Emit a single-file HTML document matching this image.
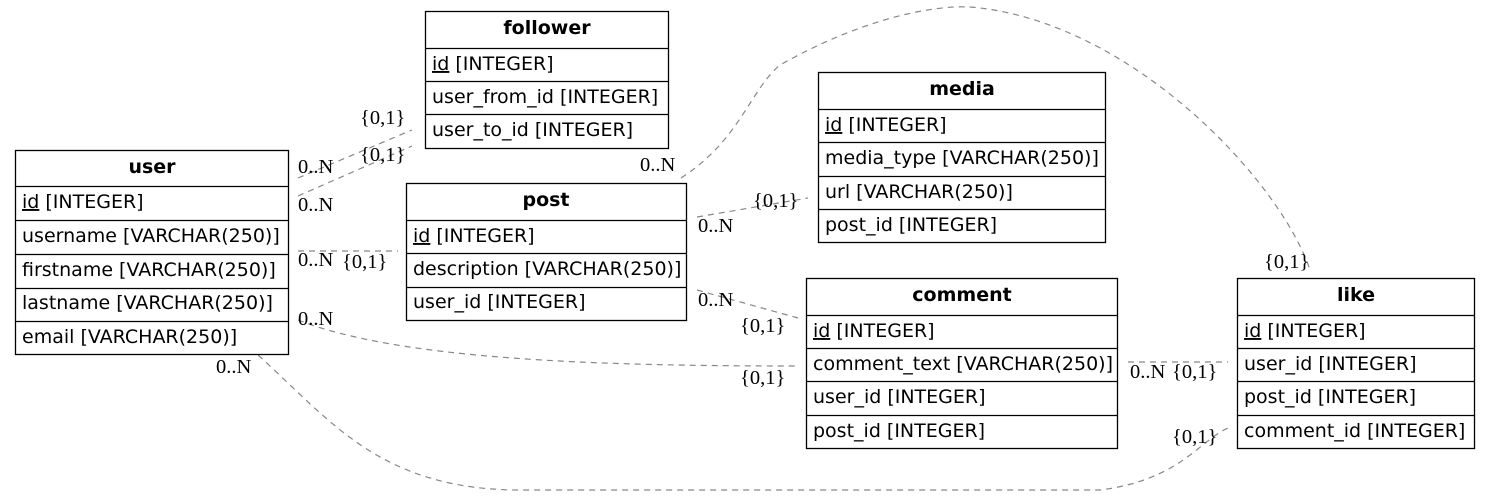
<!DOCTYPE html>
<html><head><meta charset="utf-8"><style>
html,body{margin:0;padding:0;background:#fff;}
svg{display:block}
.t{font-family:"DejaVu Sans","Liberation Sans",sans-serif;font-size:19px;fill:#000}
.h{font-family:"DejaVu Sans","Liberation Sans",sans-serif;font-size:19px;font-weight:bold;fill:#000}
.l{font-family:"Liberation Serif","DejaVu Serif",serif;font-size:20.5px;fill:#000}
.e{fill:none;stroke:#888;stroke-width:1.2;stroke-dasharray:6,5}
.b{fill:#fff;stroke:#000;stroke-width:1.3}
</style></head><body>
<svg width="1491" height="497" viewBox="0 0 1491 497" xmlns="http://www.w3.org/2000/svg">
<path class="e" d="M298,178 L412,130"/>
<path class="e" d="M298,196 L412,146"/>
<path class="e" d="M298,251 L398,251"/>
<path class="e" d="M298,320 C400,360 600,366 798,366"/>
<path class="e" d="M258,355 C330,420 380,490 520,490 L1100,490 C1180,480 1200,440 1228,428"/>
<path class="e" d="M681,178 C740,140 750,90 780,65 C860,20 930,5 970,7 C1130,20 1280,180 1310,270"/>
<path class="e" d="M697,217 L808,198"/>
<path class="e" d="M697,290 L798,318"/>
<path class="e" d="M1128,362 L1228,362"/>
<text class="l" x="298" y="173">0..N</text>
<text class="l" x="298" y="211">0..N</text>
<text class="l" x="360" y="124">{0,1}</text>
<text class="l" x="360" y="161">{0,1}</text>
<text class="l" x="298" y="266">0..N</text>
<text class="l" x="342" y="268">{0,1}</text>
<text class="l" x="298" y="325">0..N</text>
<text class="l" x="740" y="384">{0,1}</text>
<text class="l" x="216" y="373">0..N</text>
<text class="l" x="1172" y="443">{0,1}</text>
<text class="l" x="640" y="171">0..N</text>
<text class="l" x="1264" y="268">{0,1}</text>
<text class="l" x="698" y="232">0..N</text>
<text class="l" x="753" y="207">{0,1}</text>
<text class="l" x="698" y="306">0..N</text>
<text class="l" x="740" y="332">{0,1}</text>
<text class="l" x="1130" y="378">0..N</text>
<text class="l" x="1172" y="378">{0,1}</text>
<rect class="b" x="425.5" y="11.5" width="243" height="137"/>
<line class="b" x1="425" y1="48.5" x2="669" y2="48.5"/>
<line class="b" x1="425" y1="81.5" x2="669" y2="81.5"/>
<line class="b" x1="425" y1="114.5" x2="669" y2="114.5"/>
<text class="h" x="547" y="34" text-anchor="middle">follower</text>
<text class="t" x="432" y="70"><tspan text-decoration="underline">id</tspan> [INTEGER]</text>
<text class="t" x="432" y="103">user_from_id [INTEGER]</text>
<text class="t" x="432" y="136">user_to_id [INTEGER]</text>
<rect class="b" x="15.5" y="150.5" width="273" height="204"/>
<line class="b" x1="15" y1="186.5" x2="288" y2="186.5"/>
<line class="b" x1="15" y1="220.5" x2="288" y2="220.5"/>
<line class="b" x1="15" y1="254.5" x2="288" y2="254.5"/>
<line class="b" x1="15" y1="288.5" x2="288" y2="288.5"/>
<line class="b" x1="15" y1="321.5" x2="288" y2="321.5"/>
<text class="h" x="152" y="173" text-anchor="middle">user</text>
<text class="t" x="22" y="208"><tspan text-decoration="underline">id</tspan> [INTEGER]</text>
<text class="t" x="22" y="242">username [VARCHAR(250)]</text>
<text class="t" x="22" y="276">firstname [VARCHAR(250)]</text>
<text class="t" x="22" y="309">lastname [VARCHAR(250)]</text>
<text class="t" x="22" y="343">email [VARCHAR(250)]</text>
<rect class="b" x="406.5" y="183.5" width="280" height="137"/>
<line class="b" x1="406" y1="220.5" x2="687" y2="220.5"/>
<line class="b" x1="406" y1="253.5" x2="687" y2="253.5"/>
<line class="b" x1="406" y1="287.5" x2="687" y2="287.5"/>
<text class="h" x="546" y="206" text-anchor="middle">post</text>
<text class="t" x="413" y="242"><tspan text-decoration="underline">id</tspan> [INTEGER]</text>
<text class="t" x="413" y="275">description [VARCHAR(250)]</text>
<text class="t" x="413" y="308">user_id [INTEGER]</text>
<rect class="b" x="818.5" y="72.5" width="287" height="170"/>
<line class="b" x1="818" y1="109.5" x2="1106" y2="109.5"/>
<line class="b" x1="818" y1="142.5" x2="1106" y2="142.5"/>
<line class="b" x1="818" y1="176.5" x2="1106" y2="176.5"/>
<line class="b" x1="818" y1="209.5" x2="1106" y2="209.5"/>
<text class="h" x="962" y="95" text-anchor="middle">media</text>
<text class="t" x="825" y="131"><tspan text-decoration="underline">id</tspan> [INTEGER]</text>
<text class="t" x="825" y="164">media_type [VARCHAR(250)]</text>
<text class="t" x="825" y="198">url [VARCHAR(250)]</text>
<text class="t" x="825" y="231">post_id [INTEGER]</text>
<rect class="b" x="806.5" y="278.5" width="311" height="170"/>
<line class="b" x1="806" y1="315.5" x2="1118" y2="315.5"/>
<line class="b" x1="806" y1="348.5" x2="1118" y2="348.5"/>
<line class="b" x1="806" y1="381.5" x2="1118" y2="381.5"/>
<line class="b" x1="806" y1="415.5" x2="1118" y2="415.5"/>
<text class="h" x="962" y="301" text-anchor="middle">comment</text>
<text class="t" x="813" y="337"><tspan text-decoration="underline">id</tspan> [INTEGER]</text>
<text class="t" x="813" y="370">comment_text [VARCHAR(250)]</text>
<text class="t" x="813" y="403">user_id [INTEGER]</text>
<text class="t" x="813" y="437">post_id [INTEGER]</text>
<rect class="b" x="1237.5" y="278.5" width="237" height="170"/>
<line class="b" x1="1237" y1="315.5" x2="1475" y2="315.5"/>
<line class="b" x1="1237" y1="348.5" x2="1475" y2="348.5"/>
<line class="b" x1="1237" y1="381.5" x2="1475" y2="381.5"/>
<line class="b" x1="1237" y1="415.5" x2="1475" y2="415.5"/>
<text class="h" x="1356" y="301" text-anchor="middle">like</text>
<text class="t" x="1244" y="337"><tspan text-decoration="underline">id</tspan> [INTEGER]</text>
<text class="t" x="1244" y="370">user_id [INTEGER]</text>
<text class="t" x="1244" y="403">post_id [INTEGER]</text>
<text class="t" x="1244" y="437">comment_id [INTEGER]</text>
</svg>
</body></html>
